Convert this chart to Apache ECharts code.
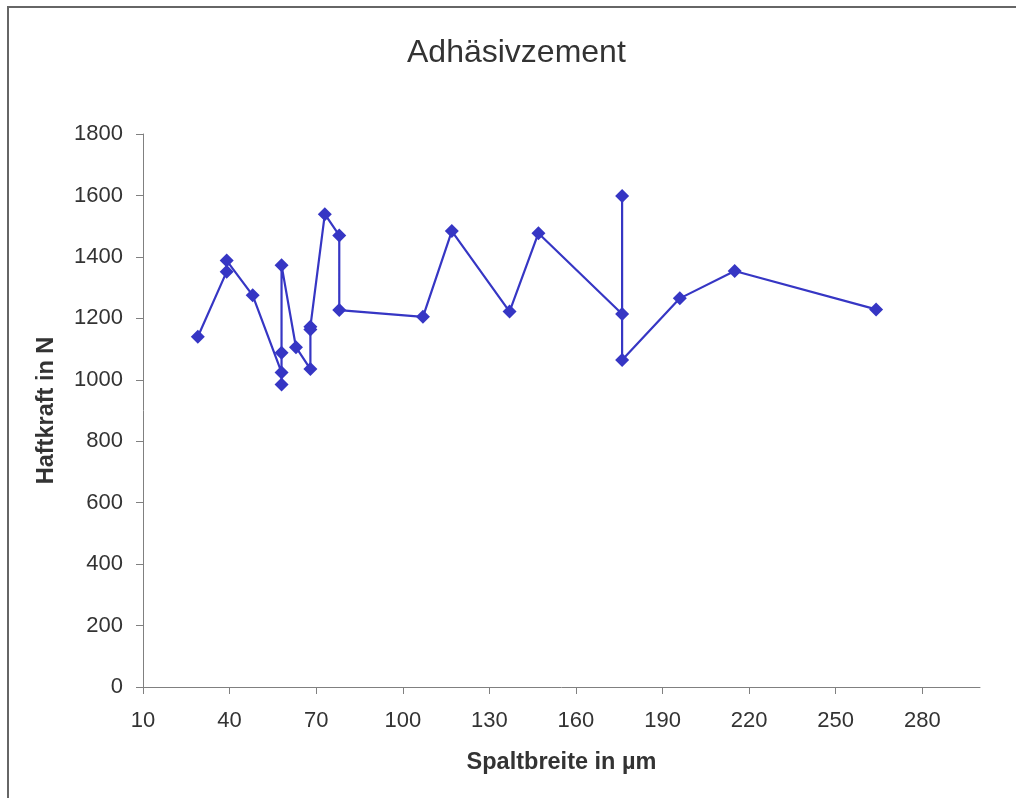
<!DOCTYPE html>
<html>
<head>
<meta charset="utf-8">
<title>Adhäsivzement</title>
<script src="https://cdn.jsdelivr.net/npm/echarts@6/dist/echarts.min.js"></script>
<style>
  html, body { margin: 0; padding: 0; background: #ffffff; }
  #chart { width: 1016px; height: 798px; }
</style>
</head>
<body>
<div id="chart"></div>
<script>
// Gap width (µm) and measured bond strength (N), in measurement order
const spaltbreite = [29, 39, 39, 48, 58, 58, 58, 58, 63, 68, 68, 68, 73, 78, 78, 107, 117, 137, 147, 176, 176, 176, 196, 215, 264];
const haftkraft   = [1140, 1352, 1388, 1275, 1024, 985, 1088, 1373, 1106, 1035, 1164, 1173, 1539, 1470, 1227, 1205, 1484, 1222, 1477, 1214, 1598, 1064, 1265, 1354, 1229];

// Axis tick labels
const xTicks = [10, 40, 70, 100, 130, 160, 190, 220, 250, 280];
const yTicks = [0, 200, 400, 600, 800, 1000, 1200, 1400, 1600, 1800];

const points = spaltbreite.map((x, i) => [x, haftkraft[i]]);

const chart = echarts.init(document.getElementById('chart'), null, { renderer: 'canvas' });

const axisColor = '#808080';
const textColor = '#333333';
const font = 'Liberation Sans, Arial, sans-serif';

chart.setOption({
  backgroundColor: '#ffffff',
  animation: false,
  title: {
    text: 'Adhäsivzement',
    left: 402,
    top: 32,
    textStyle: { fontFamily: font, fontSize: 32, fontWeight: 'normal', color: textColor }
  },
  graphic: [{
    type: 'rect',
    shape: { x: 8, y: 7, width: 1030, height: 820 },
    style: { fill: 'none', stroke: '#666666', lineWidth: 2 },
    silent: true
  }],
  grid: { left: 143, right: 36, top: 134, bottom: 111, containLabel: false },
  xAxis: {
    type: 'value',
    min: 10,
    max: 300,
    name: 'Spaltbreite in µm',
    nameLocation: 'middle',
    nameGap: 64,
    nameTextStyle: { fontFamily: font, fontSize: 23.5, fontWeight: 'bold', color: textColor },
    axisLine: { show: true, onZero: false, lineStyle: { color: axisColor, width: 1 } },
    axisTick: { show: true, length: 7, inside: false, customValues: xTicks, lineStyle: { color: axisColor } },
    axisLabel: {
      customValues: xTicks,
      margin: 23,
      formatter: v => String(v),
      fontFamily: font, fontSize: 22, color: textColor
    },
    splitLine: { show: false }
  },
  yAxis: {
    type: 'value',
    min: 0,
    max: 1800,
    name: 'Haftkraft in N',
    nameLocation: 'middle',
    nameGap: 84,
    nameTextStyle: { fontFamily: font, fontSize: 23.5, fontWeight: 'bold', color: textColor },
    axisLine: { show: true, lineStyle: { color: axisColor, width: 1 } },
    axisTick: { show: true, length: 7, inside: false, customValues: yTicks, lineStyle: { color: axisColor } },
    axisLabel: {
      customValues: yTicks,
      margin: 20,
      formatter: v => String(v),
      fontFamily: font, fontSize: 22, color: textColor
    },
    splitLine: { show: false }
  },
  series: [{
    type: 'line',
    data: points,
    symbol: 'diamond',
    symbolSize: 14,
    lineStyle: { color: '#3636C4', width: 2.2 },
    itemStyle: { color: '#3636C4' }
  }]
});
</script>
</body>
</html>
